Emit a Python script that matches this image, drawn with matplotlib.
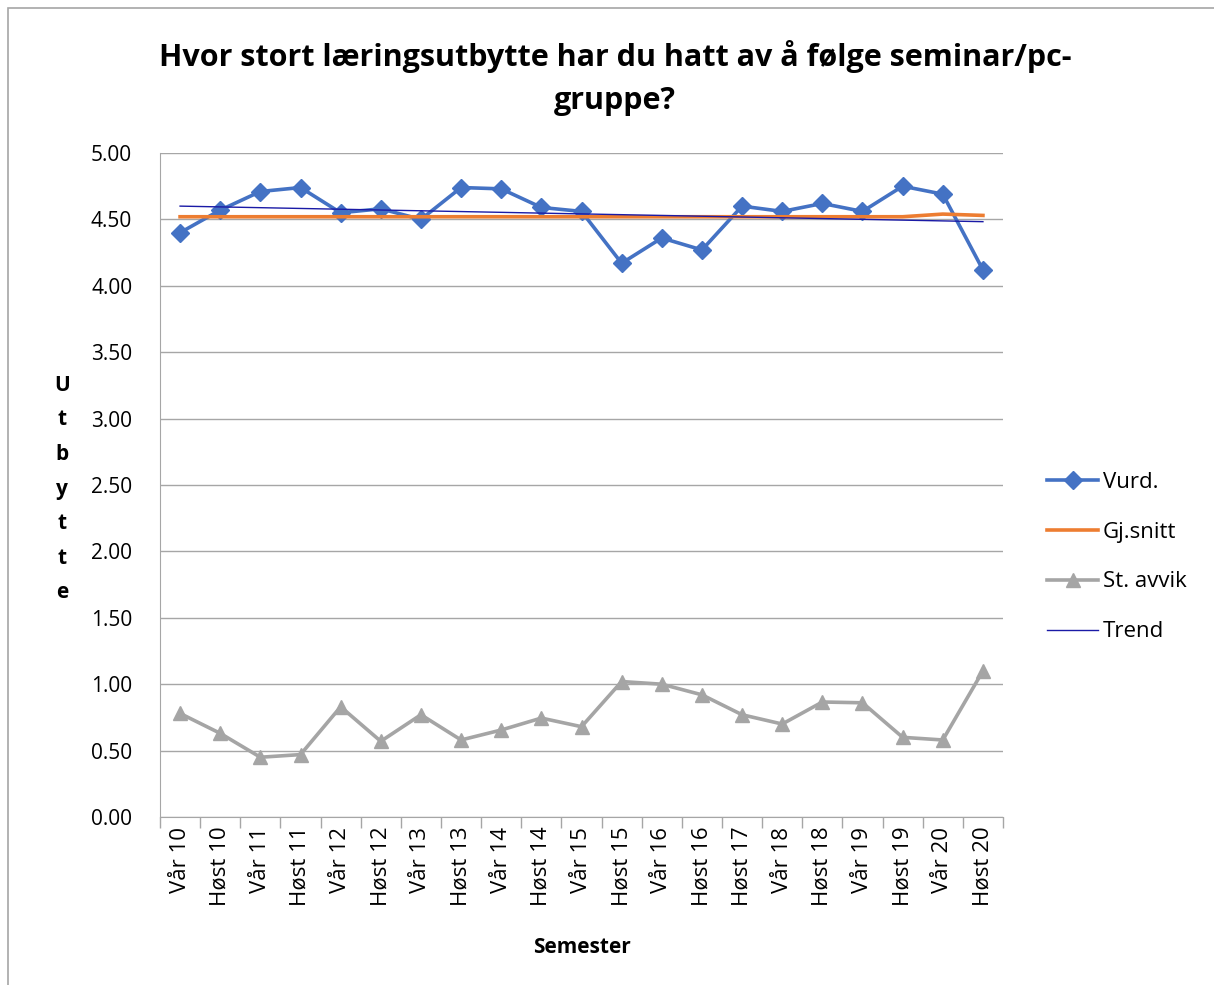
import numpy as np
import matplotlib
matplotlib.use("Agg")
import matplotlib.pyplot as plt
from matplotlib.patches import Rectangle

plt.rcParams['font.family'] = ['Open Sans', 'DejaVu Sans']

semestre = ["Vår 10", "Høst 10", "Vår 11", "Høst 11", "Vår 12", "Høst 12", "Vår 13",
            "Høst 13", "Vår 14", "Høst 14", "Vår 15", "Høst 15", "Vår 16", "Høst 16",
            "Høst 17", "Vår 18", "Høst 18", "Vår 19", "Høst 19", "Vår 20", "Høst 20"]
vurd = [4.40, 4.57, 4.71, 4.74, 4.55, 4.58, 4.50, 4.74, 4.73, 4.59, 4.56,
        4.17, 4.36, 4.27, 4.60, 4.56, 4.62, 4.56, 4.75, 4.69, 4.12]
gj_snitt = [4.52, 4.52, 4.52, 4.52, 4.52, 4.52, 4.52, 4.52, 4.52, 4.52, 4.52,
            4.52, 4.52, 4.52, 4.52, 4.52, 4.52, 4.52, 4.52, 4.54, 4.53]
st_avvik = [0.78, 0.63, 0.45, 0.47, 0.83, 0.57, 0.77, 0.58, 0.655, 0.745, 0.68,
            1.02, 1.00, 0.92, 0.77, 0.70, 0.866, 0.86, 0.60, 0.58, 1.10]

x = np.arange(len(semestre))
# linear trend of Vurd. (like an Excel trendline)
k, m = np.polyfit(x, vurd, 1)
trend = k * x + m

fig = plt.figure(figsize=(12.14, 9.85), dpi=100)
ax = fig.add_axes([160 / 1214, 1 - 817 / 985, 843 / 1214, 664 / 985])

ax.plot(x, vurd, color='#4472C4', lw=2.6, marker='D', markersize=9, label='Vurd.')
ax.plot(x, gj_snitt, color='#ED7D31', lw=2.6, label='Gj.snitt')
ax.plot(x, st_avvik, color='#A5A5A5', lw=2.6, marker='^', markersize=10, label='St. avvik')
ax.plot(x, trend, color='#1a1aa6', lw=1.0, label='Trend')

ax.set_xlim(-0.5, len(semestre) - 0.5)
ax.set_ylim(0, 5)
ax.set_yticks(np.arange(0, 5.01, 0.5))
ax.set_yticklabels(['%.2f' % v for v in np.arange(0, 5.01, 0.5)], fontsize=15)
ax.yaxis.grid(True, color='#A6A6A6', lw=1.0)
ax.set_axisbelow(True)
ax.tick_params(axis='y', length=0, pad=20)

ax.set_xticks(x)
ax.set_xticklabels(semestre, rotation=90, fontsize=16)
ax.set_xticks(np.arange(-0.5, len(semestre)), minor=True)
ax.tick_params(axis='x', which='major', length=0, pad=7)
ax.tick_params(axis='x', which='minor', length=8, color='#A6A6A6', width=1)

for s in ['top', 'right']:
    ax.spines[s].set_visible(False)
for s in ['left', 'bottom']:
    ax.spines[s].set_color('#A6A6A6')

ax.set_xlabel('Semester', fontsize=15, fontweight='bold', labelpad=22)
fig.text(62 / 1214, 1 - 489 / 985, "U\nt\nb\ny\nt\nt\ne", fontsize=15, fontweight='bold',
         ha='center', va='center', linespacing=1.85)

fig.text(615 / 1214, 1 - 78 / 985, "Hvor stort læringsutbytte har du hatt av å følge seminar/pc-\ngruppe?",
         fontsize=22, fontweight='bold', ha='center', va='center', linespacing=1.55)

leg = fig.legend(loc='center left', bbox_to_anchor=(1027 / 1214, 1 - 557 / 985), frameon=False,
                 fontsize=16, labelspacing=1.3, handlelength=2.3, handletextpad=0.2)

fig.patches.append(Rectangle((8 / 1214, -0.05), 1.2, 1 - 8 / 985 + 0.05, transform=fig.transFigure,
                             fill=False, edgecolor='#A6A6A6', lw=1.2))

fig.savefig('out.png', dpi=100)
